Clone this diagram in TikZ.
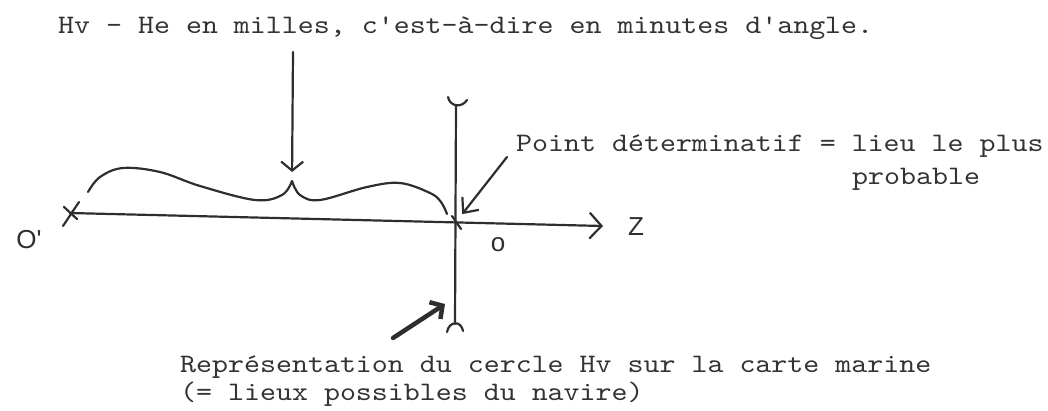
\documentclass[tikz,border=0pt]{standalone}
\usepackage{fontspec}
\newfontfamily\typefont{lmmono10-regular.otf}[FakeStretch=1.14]
\newfontfamily\handfont{Liberation Sans}
\usepackage{tikz}
\usetikzlibrary{arrows.meta, positioning, calc}
\definecolor{ink}{HTML}{2E2E2E}
\definecolor{typed}{HTML}{333333}

\begin{document}
\begin{tikzpicture}[x=1pt, y=-1pt,
    pen/.style={draw=ink, line width=2.2pt, line cap=round, line join=round},
    typed/.style={inner sep=0pt, anchor=base west, text=typed, font=\typefont\fontsize{26.7}{30}\selectfont},
    hand/.style={inner sep=0pt, text=ink, font=\handfont\fontsize{26}{26}\selectfont}]
    \useasboundingbox (0,0) rectangle (1048,410);

    % Points
    \coordinate (Oprime) at (70,213);
    \coordinate (O) at (456,222);
    \coordinate (Zend) at (603,226);
    \coordinate (Ytop) at (456,105);
    \coordinate (Ybot) at (455,324);
    \coordinate (cusp) at (292,181);

    % Axes
    \draw[pen, -{Straight Barb[length=12pt, width=26pt]}] (Oprime) -- (Zend);
    \draw[pen] (Ytop) -- (Ybot);
    \draw[pen] (448,97) .. controls (450,107) and (462,108) .. (467,100);
    \draw[pen] (447,332) .. controls (449,321) and (461,320) .. (463,331);
    \draw[pen] (63,226) -- (79,202);
    \draw[pen] (64,207) -- (77,219);
    \draw[pen] (452,216) -- (461,229);

    % Brace
    \draw[pen] plot[smooth, tension=0.6] coordinates {(88,192) (100,177) (123,168) (160,172) (200,186) (255,200) (282,195) (cusp)};
    \draw[pen] plot[smooth, tension=0.6] coordinates {(cusp) (300,195) (320,200) (367,187) (400,183) (430,193) (441,202) (447,214)};

    % Labels
    \node[typed] (hvtext) at (58,33) {Hv - He en milles, c'est-à-dire en minutes d'angle.};
    \node[typed] (pttext) at (516,151) {Point déterminatif = lieu le plus};
    \node[typed] (probtext) at (852,184) {probable};
    \node[typed] (reptext) at (180,372) {Représentation du cercle Hv sur la carte marine};
    \node[typed] (lieuxtext) at (180,400) {(= lieux possibles du navire)};
    \node[hand] (Oplbl) at (29,240) {O'};
    \node[hand] (Olbl) at (498,245) {o};
    \node[hand] (Zlbl) at (636,227) {Z};

    % Pointers
    \coordinate (hvfoot) at (293,52);
    \coordinate (ptfoot) at (507,157);
    \coordinate (repfoot) at (393,338);
    \coordinate (reptip) at (445,304);
    \draw[pen, -{Straight Barb[length=9pt, width=22pt]}, shorten >=9pt] (hvfoot) -- (cusp);
    \draw[pen, -{Straight Barb[length=12pt, width=21pt]}, shorten >=10pt] (ptfoot) -- (O);
    \draw[pen, line width=4.5pt, -{Straight Barb[length=9pt, width=20pt]}] (repfoot) -- (reptip);
\end{tikzpicture}
\end{document}
